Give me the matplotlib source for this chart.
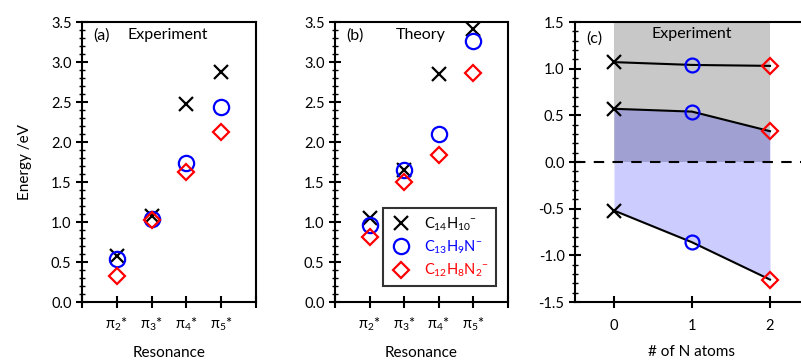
import numpy as np
import matplotlib
matplotlib.use('Agg')
import matplotlib.pyplot as plt
from matplotlib.ticker import MultipleLocator

plt.rcParams['font.family'] = ['Lato', 'DejaVu Sans']
plt.rcParams['mathtext.fontset'] = 'custom'
plt.rcParams['mathtext.rm'] = 'Lato'
plt.rcParams['mathtext.it'] = 'Lato:italic'
plt.rcParams['font.size'] = 10.5

# ---- data ----
resonances = [r'$\mathrm{\pi_2}$*', r'$\mathrm{\pi_3}$*', r'$\mathrm{\pi_4}$*', r'$\mathrm{\pi_5}$*']
species = [r'C$_{14}$H$_{10}$$^{-}$', r'C$_{13}$H$_9$N$^{-}$', r'C$_{12}$H$_8$N$_2$$^{-}$']

exp_c14 = [0.58, 1.08, 2.47, 2.87]
exp_c13 = [0.54, 1.04, 1.74, 2.44]
exp_c12 = [0.33, 1.03, 1.63, 2.13]

th_c14 = [1.05, 1.65, 2.85, 3.41]
th_c13 = [0.96, 1.65, 2.10, 3.26]
th_c12 = [0.81, 1.50, 1.84, 2.86]

n_atoms = [0, 1, 2]
c_top = [1.07, 1.04, 1.03]
c_mid = [0.57, 0.54, 0.33]
c_bot = [-0.52, -0.86, -1.26]

marks = [('x', 'black', 'none'), ('o', 'blue', 'none'), ('D', 'red', 'none')]

W, H = 801, 364
fig = plt.figure(figsize=(W/100, H/100), dpi=100)
def px(l, b, r, t):
    return [l/W, 1-b/H, (r-l)/W, (b-t)/H]

axa = fig.add_axes(px(82, 302, 256, 22))
axb = fig.add_axes(px(335, 302, 508, 22))
axc = fig.add_axes(px(575, 302, 809, 22))

def style(ax):
    for s in ax.spines.values():
        s.set_linewidth(1.5)
    ax.tick_params(which='major', direction='inout', length=8, width=1.5, labelsize=10.5)
    ax.tick_params(which='minor', direction='inout', length=4, width=1.0)
    ax.yaxis.set_minor_locator(MultipleLocator(0.1))

xs = np.arange(1, 5)
for ax, data, title, lab in [(axa, [exp_c14, exp_c13, exp_c12], 'Experiment', '(a)'),
                             (axb, [th_c14, th_c13, th_c12], 'Theory', '(b)')]:
    sizes = [10, 11, 8]
    for (m, c, f), d, nm, ms in zip(marks, data, species, sizes):
        ax.plot(xs, d, ls='none', marker=m, mec=c, mfc=f, ms=ms, mew=1.6, label=nm)
    ax.set_xlim(0, 5)
    ax.set_ylim(0, 3.5)
    ax.set_xticks(range(0, 6))
    ax.set_xticklabels([''] + resonances + [''], fontsize=11.5)
    ax.set_yticks(np.arange(0, 3.51, 0.5))
    ax.set_yticklabels([f'{v:.1f}' for v in np.arange(0, 3.51, 0.5)])
    style(ax)
    ax.tick_params(axis='x', pad=6)
    ax.set_xlabel('Resonance', labelpad=9, fontsize=11)
    ax.text(0.063, 0.95, lab, transform=ax.transAxes, va='center', ha='left', fontsize=11.5)
    ax.text(0.26 if lab == '(a)' else 0.35, 0.955, title, transform=ax.transAxes,
            va='center', ha='left', fontsize=11.5)

axa.set_ylabel('Energy /eV', labelpad=14, fontsize=11)

leg = axb.legend(loc='lower right', frameon=True, fancybox=False, edgecolor='black',
                 handletextpad=0.9, borderpad=0.5, labelspacing=0.4, fontsize=10.5,
                 handlelength=1.4, bbox_to_anchor=(0.975, 0.03))
leg.get_frame().set_linewidth(1.5)
for t, c in zip(leg.get_texts(), ['black', 'blue', 'red']):
    t.set_color(c)

# panel (c)
axc.fill_between(n_atoms, 0, 1.5, color='#c8c8c8', lw=0, zorder=0)
axc.fill_between(n_atoms, c_bot, c_mid, color=(0, 0, 1, 0.2), lw=0, zorder=1)
axc.axhline(0, color='black', ls=(0, (5, 4)), lw=1.5, zorder=2)
for yv in [c_top, c_mid, c_bot]:
    axc.plot(n_atoms, yv, color='black', lw=1.5, zorder=3)
    for i, (m, c, f) in enumerate(marks):
        ms = [10, 10, 8][i]
        axc.plot(n_atoms[i], yv[i], marker=m, mec=c, mfc='none',
                 ms=ms, mew=1.6, ls='none', zorder=4)
axc.set_xlim(-0.5, 2.5)
axc.set_ylim(-1.5, 1.5)
axc.set_xticks(n_atoms)
axc.set_yticks(np.arange(-1.5, 1.51, 0.5))
axc.set_yticklabels([f'{v:.1f}' for v in np.arange(-1.5, 1.51, 0.5)])
style(axc)
axc.tick_params(axis='x', pad=8)
axc.set_xlabel('# of N atoms', labelpad=9, fontsize=11)
axc.text(0.047, 0.94, '(c)', transform=axc.transAxes, va='center', ha='left', fontsize=11.5)
axc.text(1, 1.37, 'Experiment', va='center', ha='center', fontsize=11.5)

fig.savefig('out.png', dpi=100)
